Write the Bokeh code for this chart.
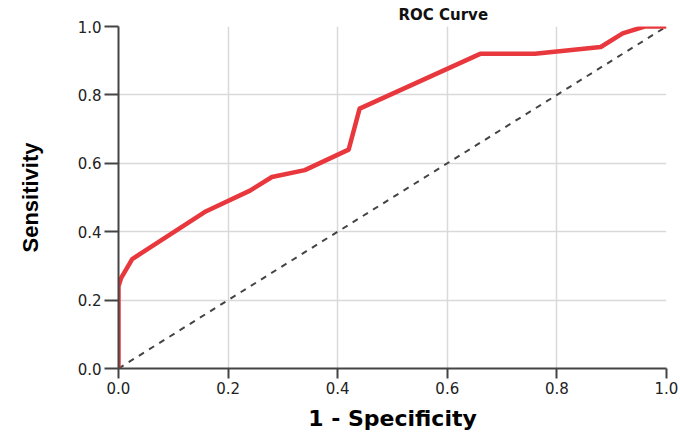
from bokeh.plotting import figure
from bokeh.models import FixedTicker, Range1d
from bokeh.embed import file_html
from bokeh.resources import INLINE

# ROC curve data (1 - specificity, sensitivity)
fpr = [0.0, 0.0, 0.005, 0.025, 0.16, 0.24, 0.28, 0.34, 0.42, 0.44, 0.66, 0.76, 0.88, 0.92, 0.96, 1.0]
tpr = [0.0, 0.24, 0.265, 0.32, 0.46, 0.52, 0.56, 0.58, 0.64, 0.76, 0.92, 0.92, 0.94, 0.98, 1.0, 1.0]

ref_x = [0.0, 1.0]
ref_y = [0.0, 1.0]

ticks = [0.0, 0.2, 0.4, 0.6, 0.8, 1.0]
tick_labels = ["0.0", "0.2", "0.4", "0.6", "0.8", "1.0"]

title_text = "ROC Curve"
x_label = "1 - Specificity"
y_label = "Sensitivity"

p = figure(width=680, height=435, output_backend="svg", toolbar_location=None,
           x_range=Range1d(0, 1), y_range=Range1d(0, 1),
           min_border_left=118, min_border_right=14, min_border_top=26, min_border_bottom=67)
p.title.text = title_text
p.title.align = "left"
p.title.offset = 280
p.title.standoff = 5
p.title.text_font = "DejaVu Sans"
p.title.text_font_style = "bold"
p.title.text_font_size = "15px"
p.title.text_color = "#111111"
p.outline_line_color = None
p.background_fill_color = "white"
p.border_fill_color = "white"

for ax in (p.xaxis[0], p.yaxis[0]):
    ax.ticker = FixedTicker(ticks=ticks)
    ax.major_label_overrides = {t: l for t, l in zip(ticks, tick_labels)}
    ax.minor_tick_line_color = None
    ax.major_tick_in = 0
    ax.axis_line_color = "#444444"
    ax.axis_line_width = 2
    ax.major_tick_line_color = "#444444"
    ax.major_tick_line_width = 2
    ax.major_label_text_font = "DejaVu Sans"
    ax.major_label_text_font_size = "15px"
    ax.major_label_text_color = "#222222"
    ax.major_label_standoff = 3
    ax.axis_label_text_color = "#000000"
    ax.axis_label_text_font_style = "bold"

p.xaxis.major_tick_out = 10
p.yaxis.major_tick_out = 14
p.xaxis.axis_label = x_label
p.xaxis.axis_label_text_font = "DejaVu Sans"
p.xaxis.axis_label_text_font_size = "22px"
p.xaxis.axis_label_standoff = 9
p.yaxis.axis_label = y_label
p.yaxis.axis_label_text_font = "Liberation Sans"
p.yaxis.axis_label_text_font_size = "22px"
p.yaxis.axis_label_standoff = 32

for g in (p.xgrid[0], p.ygrid[0]):
    g.grid_line_color = "#d9d9d9"
    g.grid_line_width = 1.5

p.line(ref_x, ref_y, line_color="#444444", line_width=2, line_dash="6 6")
p.line(fpr, tpr, line_color="#e8383d", line_width=4.5, line_join="round")

open("out.html", "w").write(file_html(p, INLINE))
